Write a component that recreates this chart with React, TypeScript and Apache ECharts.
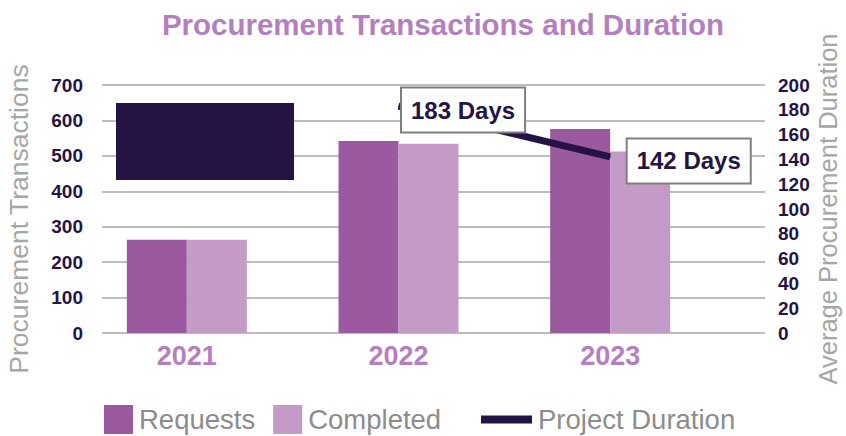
import React, { useEffect, useRef } from "react";
import * as echarts from "echarts";

const years = ["2021", "2022", "2023"];
const requests = [263, 542, 576];
const completed = [263, 534, 512];
const duration: (number | string)[] = ["-", 183, 142];
const leftTicks = { min: 0, max: 700, interval: 100 };
const rightTicks = { min: 0, max: 200, interval: 20 };

const DARK = "#241445";
const REQ = "#9B59A0";
const COMP = "#C49AC6";
const PINK = "#B47FC0";
const GRAY = "#A6A6A6";

export default function App() {
  const ref = useRef<HTMLDivElement>(null);
  useEffect(() => {
    document.body.style.margin = "0";
    const chart = echarts.init(ref.current!, null, { renderer: "svg" });
    const option: any = {
      animation: false,
      backgroundColor: "#ffffff",
      textStyle: { fontFamily: "Liberation Sans, Arial, sans-serif" },
      title: {
        text: "Procurement Transactions and Duration",
        left: 438,
        top: 4,
        textAlign: "center",
        textStyle: { fontSize: 29.5, fontWeight: "bold", color: PINK, fontFamily: "Liberation Sans, Arial, sans-serif" },
      },
      grid: [
        { left: 102, right: 81, top: 85, bottom: 103, outerBoundsMode: "none", containLabel: false },
        { left: 81, right: 130, top: 85, bottom: 103, outerBoundsMode: "none", containLabel: false },
      ],
      xAxis: [
        { type: "value", gridIndex: 0, show: false, min: 0, max: 1 },
        {
          type: "category",
          gridIndex: 1,
          data: years,
          axisLine: { show: false },
          axisTick: { show: false },
          axisLabel: { fontSize: 27, fontWeight: "bold", color: PINK, margin: 9 },
        },
      ],
      yAxis: [
        {
          type: "value",
          gridIndex: 0,
          position: "left",
          ...leftTicks,
          name: "Procurement Transactions",
          nameLocation: "middle",
          nameGap: 70,
          nameRotate: 90,
          nameTextStyle: { fontSize: 26.5, color: GRAY, padding: [0, 20, 0, 0] },
          axisLine: { show: false },
          axisTick: { show: false },
          axisLabel: { fontSize: 19, fontWeight: "bold", color: DARK, margin: 19 },
          splitLine: { lineStyle: { color: "#BDBDBD", width: 2 } },
        },
        {
          type: "value",
          gridIndex: 0,
          position: "right",
          ...rightTicks,
          name: "Average Procurement Duration",
          nameLocation: "middle",
          nameGap: 50,
          nameMoveOverlap: false,
          nameRotate: 90,
          nameTextStyle: { fontSize: 25.5, lineHeight: 26, color: GRAY },
          axisLine: { show: false },
          axisTick: { show: false },
          axisLabel: { fontSize: 19, fontWeight: "bold", color: DARK, margin: 13 },
          splitLine: { show: false },
        },
        { type: "value", gridIndex: 1, show: false, ...leftTicks, splitLine: { show: false } },
        { type: "value", gridIndex: 1, show: false, ...rightTicks, splitLine: { show: false } },
      ],
      legend: [
        {
          data: ["Requests", "Completed"],
          left: 99,
          top: 400,
          itemWidth: 29,
          itemHeight: 29,
          itemGap: 18,
          icon: "rect",
          textStyle: { fontSize: 27.5, lineHeight: 29, color: "#8C8C8C", padding: [0, 0, 0, 1] },
        },
        {
          data: [{ name: "Project Duration", icon: "rect" }],
          left: 476,
          top: 400,
          itemWidth: 51,
          itemHeight: 8,
          textStyle: { fontSize: 27.5, lineHeight: 29, color: "#8C8C8C", padding: [0, 0, 0, 1] },
        },
      ],
      series: [
        {
          name: "Requests",
          type: "bar",
          xAxisIndex: 1,
          yAxisIndex: 2,
          data: requests,
          barWidth: 60,
          barGap: "0%",
          itemStyle: { color: REQ },
        },
        {
          name: "Completed",
          type: "bar",
          xAxisIndex: 1,
          yAxisIndex: 2,
          data: completed,
          barWidth: 60,
          barGap: "0%",
          itemStyle: { color: COMP },
        },
        {
          name: "Project Duration",
          type: "line",
          xAxisIndex: 1,
          yAxisIndex: 3,
          data: duration.map((v, i) => ({
            value: v,
            label: { distance: i === 2 ? 17 : 3, offset: [0, 4] },
          })),
          symbol: "circle",
          symbolSize: 1,
          showSymbol: true,
          lineStyle: { color: DARK, width: 7 },
          itemStyle: { color: DARK },
          z: 5,
          label: {
            show: true,
            position: "right",
            formatter: "{c} Days",
            fontSize: 24,
            fontWeight: "bold",
            color: DARK,
            backgroundColor: "#ffffff",
            borderColor: "#7F7F7F",
            borderWidth: 2,
            padding: [10, 9, 9, 9],
          },
        },
      ],
      graphic: [
        {
          type: "rect",
          left: 116,
          top: 103,
          shape: { width: 178, height: 77 },
          style: { fill: DARK },
          z: 10,
        },
      ],
    };
    chart.setOption(option);
    return () => chart.dispose();
  }, []);
  return <div ref={ref} style={{ width: 846, height: 436 }} />;
}
